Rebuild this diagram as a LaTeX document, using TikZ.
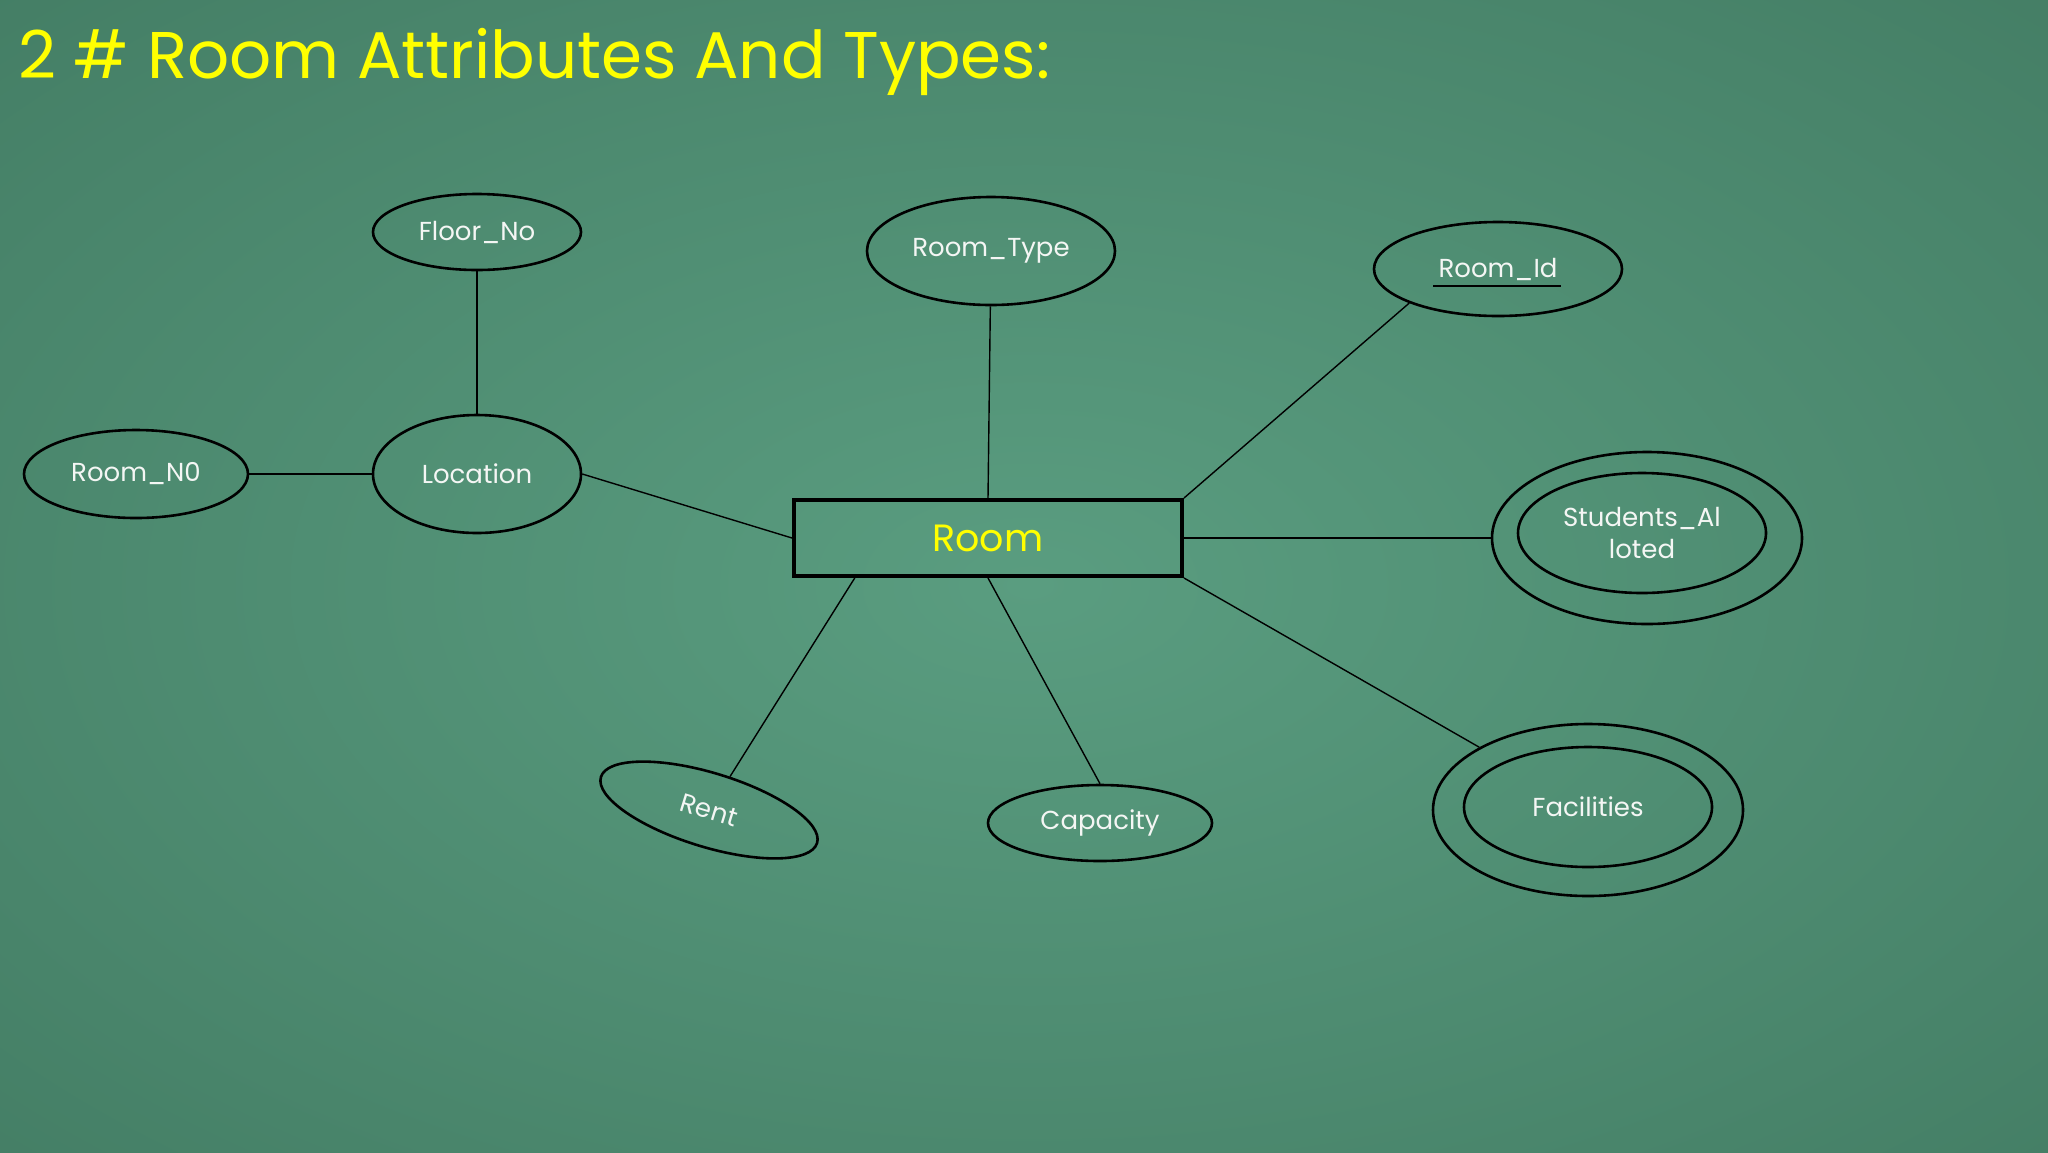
\documentclass[tikz,border=0pt]{standalone}
\usepackage{fontspec}
\setmainfont{Poppins}
\usetikzlibrary{shapes.geometric,calc}
\definecolor{bgin}{RGB}{90,157,128}
\definecolor{bgout}{RGB}{68,126,101}
\definecolor{ylw}{RGB}{255,255,0}
\definecolor{lbl}{RGB}{244,246,244}
\begin{document}
\begin{tikzpicture}[x=0.5pt,y=-0.5pt,
  attr/.style={ellipse,draw=black,line width=1.3pt,inner sep=0pt,text=lbl,
    font=\fontsize{13}{16}\selectfont,align=center},
  conn/.style={draw=black,line width=0.7pt},
  entity/.style={draw=black,line width=2pt,inner sep=0pt,text=ylw,
    font=\fontsize{19}{22}\selectfont}]
\useasboundingbox (0,0) rectangle (2048,1152);
\begin{scope}
  \clip (0,0) rectangle (2048,1152);
  \fill[bgout] (0,0) rectangle (2048,1152);
  \shade[inner color=bgin,outer color=bgout] (1030,585) ellipse [x radius=740pt,y radius=420pt];
\end{scope}

\node[anchor=base west,inner sep=0pt,text=ylw,font=\fontsize{33}{40}\selectfont] (title) at (18,78) {2 \# Room Attributes And Types:};

\node[entity,minimum width=194pt,minimum height=38pt] (room) at (988,538) {Room};

\node[attr,minimum width=104pt,minimum height=38pt] (floor) at (477,232) {Floor\_No};
\node[attr,minimum width=124pt,minimum height=54pt] (rtype) at (991,251) {Room\_Type};
\node[attr,minimum width=124pt,minimum height=47pt] (rid) at (1498,269) {Room\_Id};
\draw[line width=0.9pt] ($(rid.center)+(-65,17)$) -- ($(rid.center)+(63,17)$);
\node[attr,minimum width=112pt,minimum height=44pt] (rno) at (136,474) {Room\_N0};
\node[attr,minimum width=104pt,minimum height=59pt] (loc) at (477,474) {Location};
\node[attr,minimum width=155pt,minimum height=86pt] (stu) at (1647,538) {};
\node[attr,minimum width=124pt,minimum height=60pt] (stuin) at (1642,533) {Students\_Al\\loted};
\node[attr,minimum width=113pt,minimum height=37pt,rotate=-17] (rent) at (709,810) {Rent};
\node[attr,minimum width=112pt,minimum height=38pt] (cap) at (1100,823) {Capacity};
\node[attr,minimum width=155pt,minimum height=86pt] (fac) at (1588,810) {};
\node[attr,minimum width=124pt,minimum height=60pt] (facin) at (1588,807) {Facilities};

\draw[conn] (floor) -- (loc);
\draw[conn] (rno) -- (loc);
\draw[conn] (loc.east) -- (room.west);
\draw[conn] (rtype) -- (room.north);
\draw[conn] (room.north east) -- (rid.201);
\draw[conn] (room.east) -- (stu);
\draw[conn] (room.south east) -- (fac.150);
\draw[conn] (room.south) -- (cap.north);
\coordinate (rentfoot) at ($(room.south west)!0.16!(room.south east)$);
\draw[conn] (rentfoot) -- (rent);
\end{tikzpicture}
\end{document}
